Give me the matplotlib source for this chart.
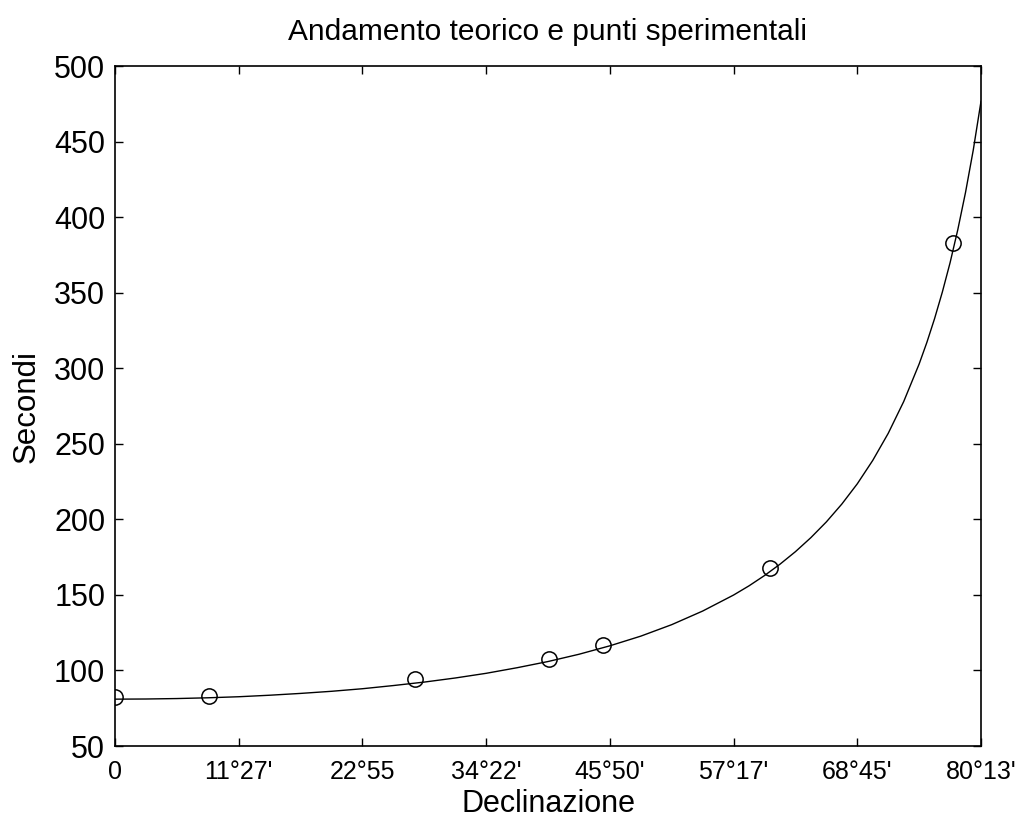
import numpy as np
import matplotlib

matplotlib.use("Agg")
import matplotlib.pyplot as plt

# theoretical curve (x in radians)
curve_x = [0.0, 0.05, 0.1, 0.15, 0.2, 0.25, 0.3, 0.35, 0.4, 0.45, 0.5, 0.55,
           0.6, 0.65, 0.7, 0.75, 0.8, 0.85, 0.9, 0.95, 1.0, 1.025, 1.05,
           1.075, 1.1, 1.125, 1.15, 1.175, 1.2, 1.225, 1.25, 1.275, 1.3,
           1.3125, 1.325, 1.3375, 1.35, 1.3625, 1.375, 1.3875, 1.4]
curve_y = [81.0, 81.1, 81.4, 81.9, 82.6, 83.6, 84.8, 86.2, 87.9, 90.0, 92.3,
           95.0, 98.1, 101.8, 105.9, 110.7, 116.3, 122.7, 130.3, 139.3, 149.9,
           156.0, 162.8, 170.3, 178.6, 187.9, 198.3, 210.1, 223.5, 239.0,
           256.9, 277.9, 302.8, 317.1, 332.9, 350.4, 369.8, 391.7, 416.4,
           444.4, 476.6]

# measured points
meas_x = [0.0, 0.152, 0.485, 0.702, 0.789, 1.059, 1.354]
meas_y = [82.2, 83.3, 94.1, 107.4, 116.8, 167.6, 382.7]

xticks = [0.0, 0.2, 0.4, 0.6, 0.8, 1.0, 1.2, 1.4]
xlabels = ["0", "11°27'", "22°55", "34°22'", "45°50'", "57°17'", "68°45'", "80°13'"]
yticks = list(range(50, 501, 50))

plt.rcParams["font.family"] = ["Liberation Sans", "DejaVu Sans"]

fig = plt.figure(figsize=(10.16, 8.21), dpi=100)
ax = fig.add_axes([115 / 1016, 1 - 746 / 821, 866 / 1016, 680 / 821])

ax.plot(curve_x, curve_y, color="black", linewidth=1.0)
ax.plot(meas_x, meas_y, linestyle="none", marker="o", markersize=11,
        markerfacecolor="none", markeredgecolor="black", markeredgewidth=1.1)

ax.set_xlim(0, 1.4)
ax.set_ylim(50, 500)
ax.set_xticks(xticks)
ax.set_xticklabels(xlabels)
ax.set_yticks(yticks)

ax.tick_params(direction="in", length=6, width=1, top=True, right=True,
               colors="black")
ax.tick_params(axis="x", labelsize=18, pad=10)
ax.tick_params(axis="y", labelsize=22, pad=7)
for sp in ax.spines.values():
    sp.set_linewidth(1.2)

ax.set_title("Andamento teorico e punti sperimentali", fontsize=21.5, pad=19)
ax.set_xlabel("Declinazione", fontsize=22, labelpad=4)
ax.set_ylabel("Secondi", fontsize=22.5, labelpad=9)

fig.savefig("out.png", dpi=100)
